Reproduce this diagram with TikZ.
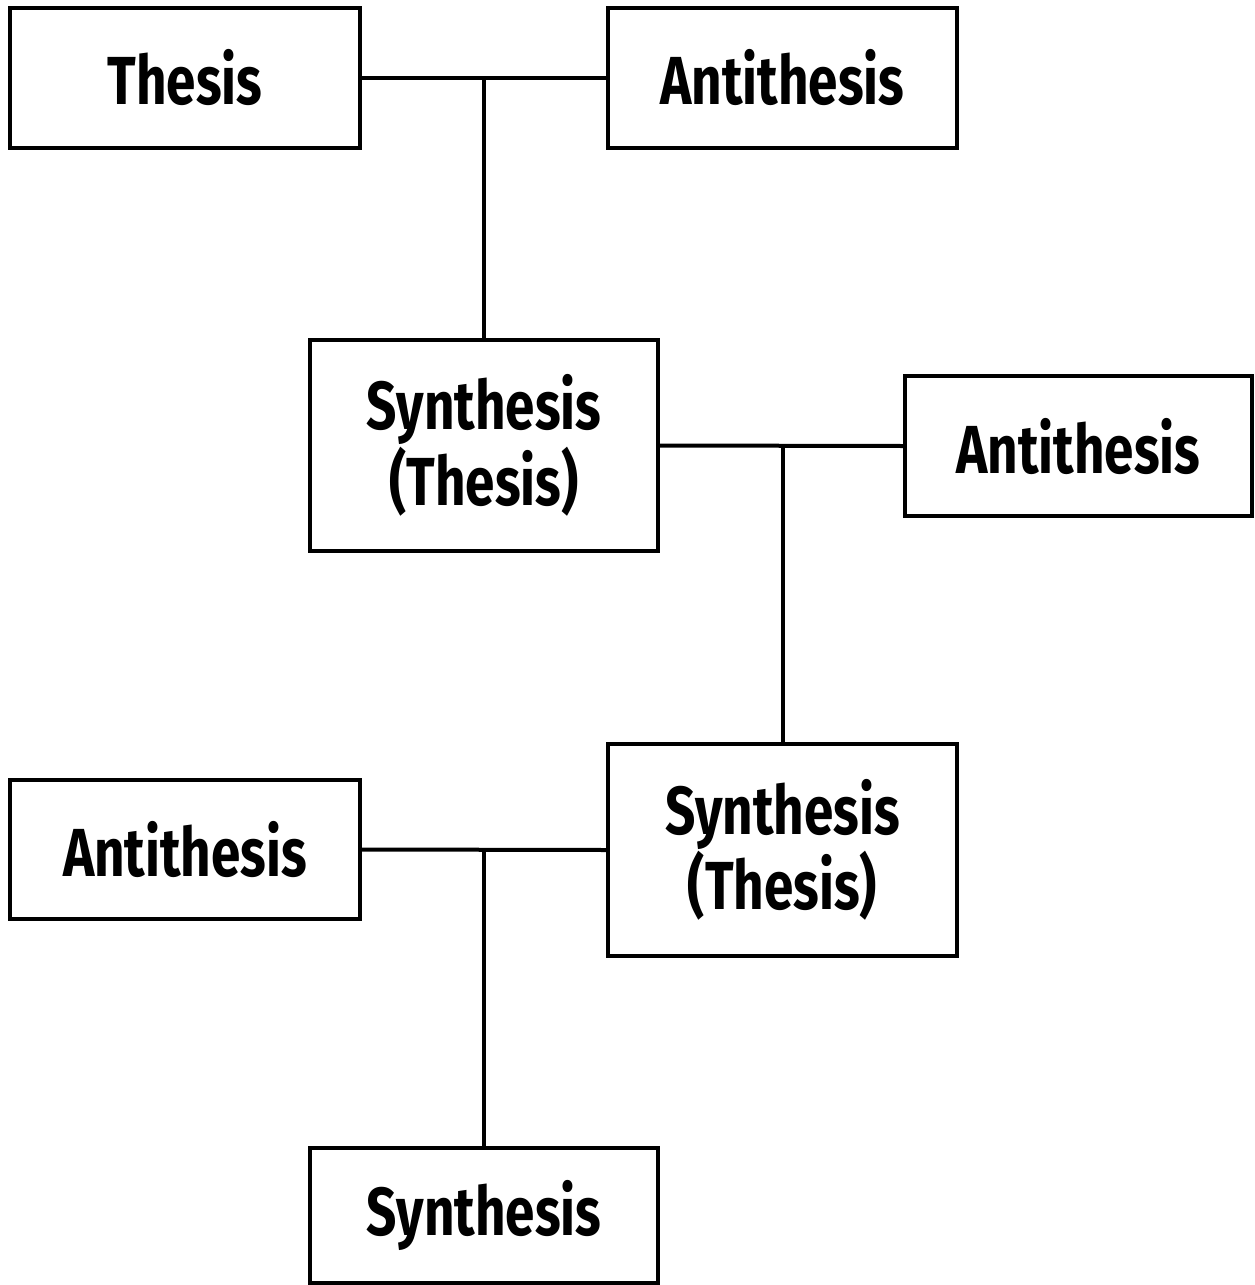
\documentclass[tikz,border=0pt]{standalone}
\usepackage{fontspec}
\setmainfont[FakeStretch=0.78]{Fira Sans}
\begin{document}
\begin{tikzpicture}[x=0.5pt,y=-0.5pt,
  box/.style={draw=black,line width=2pt,rectangle,inner sep=0pt,align=center,
    font=\fontsize{34}{35}\selectfont\bfseries},
  conn/.style={line width=2pt}]
\useasboundingbox (0,0) rectangle (1254,1285);
\fill[white] (0,0) rectangle (1254,1285);
\node[box,minimum width=175pt,minimum height=70pt] (thesis) at (185,78) {Thesis};
\node[box,minimum width=174.5pt,minimum height=70pt] (anti1) at (782.5,78) {Antithesis};
\node[box,minimum width=174pt,minimum height=105.5pt] (syn1) at (484,445.5) {Synthesis\\(Thesis)};
\node[box,minimum width=173.5pt,minimum height=70pt] (anti2) at (1078.5,446) {Antithesis};
\node[box,minimum width=174.5pt,minimum height=106pt] (syn2) at (782.5,850) {Synthesis\\(Thesis)};
\node[box,minimum width=175pt,minimum height=69.5pt] (anti3) at (185,849.5) {Antithesis};
\node[box,minimum width=174pt,minimum height=67.5pt] (syn3) at (484,1215.5) {Synthesis};
\draw[conn] (thesis.east) -- (anti1.west);
\draw[conn] (syn1.north) -- (syn1.north |- thesis.east);
\draw[conn] (syn1.east) -- (anti2.west);
\draw[conn] (syn2.north) -- (syn2.north |- syn1.east);
\draw[conn] (anti3.east) -- (syn2.west);
\draw[conn] (syn3.north) -- (syn3.north |- anti3.east);
\end{tikzpicture}
\end{document}
